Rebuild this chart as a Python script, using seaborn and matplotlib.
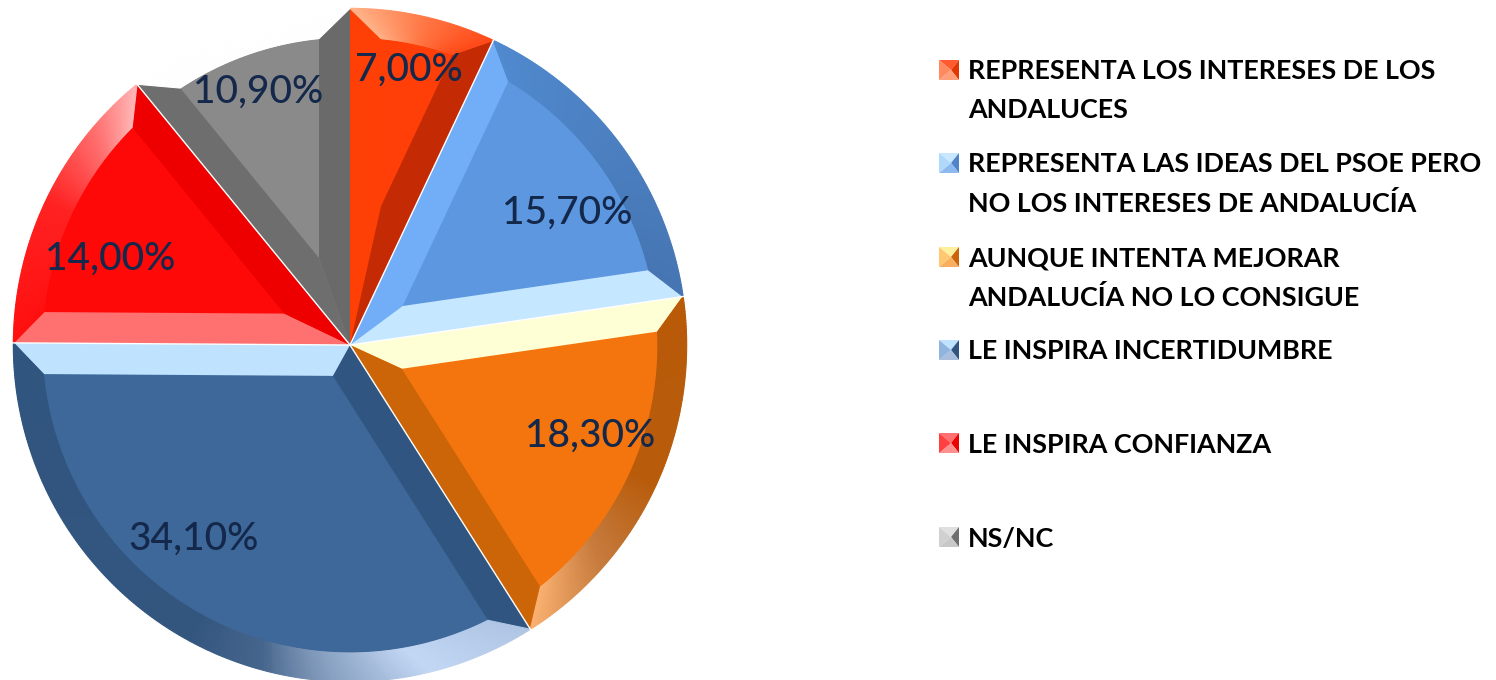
import numpy as np
import matplotlib
matplotlib.use('Agg')
import matplotlib.pyplot as plt
import seaborn as sns
from matplotlib.colors import LinearSegmentedColormap
from matplotlib.patches import Polygon

sns.set_theme(style='white')
plt.rcParams['font.family'] = ['Lato', 'DejaVu Sans']

legend_lines = [
    ['REPRESENTA LOS INTERESES DE LOS', 'ANDALUCES'],
    ['REPRESENTA LAS IDEAS DEL PSOE PERO', 'NO LOS INTERESES DE ANDALUCÍA'],
    ['AUNQUE INTENTA MEJORAR', 'ANDALUCÍA NO LO CONSIGUE'],
    ['LE INSPIRA INCERTIDUMBRE'],
    ['LE INSPIRA CONFIANZA'],
    ['NS/NC'],
]
values = [7.0, 15.7, 18.3, 34.1, 14.0, 10.9]
value_labels = ['7,00%', '15,70%', '18,30%', '34,10%', '14,00%', '10,90%']

face_colors = ['#FF3E08', '#5C97E0', '#F4750E', '#3E6899', '#FF0808', '#8A8A8A']
start_colors = ['#FF4006', '#72AEF8', '#FFFFD5', '#305580', '#FF7070', '#6E6E6E']
end_colors = ['#C42B04', '#C5E7FF', '#CC6408', '#BFE3FF', '#EE0000', '#6A6A6A']
rim_stops = [
    [(0, '#FFB48A'), (0.5, '#FF7A48'), (1, '#FF4A18')],
    [(0, '#5089CE'), (1, '#4675B2')],
    [(0, '#B85A08'), (0.5, '#B85C0C'), (0.75, '#C57A3C'), (1, '#F9B070')],
    [(0, '#AFC6E4'), (0.15, '#C3D8F5'), (0.31, '#7E97B8'), (0.39, '#46658C'), (0.5, '#33567F'), (1, '#30557F')],
    [(0, '#FF1010'), (0.5, '#FF2222'), (0.8, '#FF7070'), (1, '#FFB5B5')],
    [(0, '#FFFFFF'), (1, '#FFFFFF')],
]
swatch_colors = [
    ['#FF5A30', '#E63600', '#FF9E7A', '#FF8A60'],
    ['#C8E8FF', '#4F85C8', '#8DB9EE', '#B0D8FA'],
    ['#FFF0A0', '#CC6408', '#F8B060', '#FFC870'],
    ['#BFE3FF', '#305580', '#A8BEDC', '#8FB5DF'],
    ['#FF7070', '#EE0000', '#FF9090', '#FF4040'],
    ['#E0E0E0', '#6E6E6E', '#C8C8C8', '#D0D0D0'],
]

# pixel layout of the page
cx, cy, radius = 350, 345, 336
edge_w = 31 / radius
rim_w = 28 / radius
label_xy = [(409, 70), (567, 213), (590, 436), (194, 539), (110, 259), (258, 92)]
legend_y = [[71, 110], [164, 203], [258, 297], [351], [445], [539]]
swatch_y = [70, 163, 257, 350, 443, 537]

fig = plt.figure(figsize=(14.96, 6.8), dpi=100, facecolor='white')
pad = 345
ax = fig.add_axes([(cx - pad) / 1496, (680 - cy - pad) / 680, 2 * pad / 1496, 2 * pad / 680])
wedges, _ = ax.pie(values, colors=sns.color_palette(face_colors), startangle=90,
                   counterclock=False, radius=1, wedgeprops={'linewidth': 0})
ax.set_xlim(-pad / radius, pad / radius)
ax.set_ylim(-pad / radius, pad / radius)
ax.axis('off')


def pt(r, deg):
    return [r * np.cos(np.radians(deg)), r * np.sin(np.radians(deg))]


for i, w in enumerate(wedges):
    hi, lo = w.theta2, w.theta1  # clockwise: slice starts at hi
    half = np.radians((hi - lo) / 2)
    mid = (hi + lo) / 2
    apex = pt(edge_w / np.sin(half), mid)
    inner = 1 - rim_w
    da = np.degrees(np.arcsin(edge_w / inner))
    ihi, ilo = hi - da, lo + da

    ax.add_patch(Polygon([[0, 0], pt(1, hi), pt(inner, ihi), apex], fc=start_colors[i], lw=0, zorder=3))
    ax.add_patch(Polygon([[0, 0], pt(1, lo), pt(inner, ilo), apex], fc=end_colors[i], lw=0, zorder=3))

    cmap = LinearSegmentedColormap.from_list('rim%d' % i, rim_stops[i])
    n = max(int(hi - lo) * 2, 8)
    for k in range(n):
        f0, f1 = k / n, (k + 1) / n
        # outer and inner arcs of the rim, narrowing to the inner corners
        poly = [pt(1.002, hi - f0 * (hi - lo)), pt(1.002, hi - f1 * (hi - lo)),
                pt(inner, ihi - f1 * (ihi - ilo)), pt(inner, ihi - f0 * (ihi - ilo))]
        c = cmap((f0 + f1) / 2)
        ax.add_patch(Polygon(poly, fc=c, ec=c, lw=0.8, zorder=4))

    # thin white seam between slices, none where the grey meets the first slice
    if i < len(wedges) - 1:
        ax.plot(*zip([0, 0], pt(1.01, lo)), color='white', lw=1.0, zorder=5, solid_capstyle='butt')

    x, y = label_xy[i]
    ax.text((x - cx) / radius, (cy - y) / radius, value_labels[i], color='#14284B',
            fontsize=28, fontweight='medium', ha='center', va='center', zorder=6)

# legend drawn on a full page overlay, in pixels
leg = fig.add_axes([0, 0, 1, 1])
leg.set_xlim(0, 1496)
leg.set_ylim(680, 0)
leg.axis('off')
leg.patch.set_alpha(0)
for i, lines in enumerate(legend_lines):
    yc = swatch_y[i]
    x0, x1, y0, y1 = 939, 959, yc - 10, yc + 10
    mid_pt = (951, yc)
    corners = [(x0, y0), (x1, y0), (x1, y1), (x0, y1)]
    for j in range(4):
        leg.add_patch(Polygon([corners[j], corners[(j + 1) % 4], mid_pt],
                              fc=swatch_colors[i][j], lw=0))
    for line, y in zip(lines, legend_y[i]):
        leg.text(968, y, line, color='black', fontsize=19.4, fontweight='bold',
                 ha='left', va='center')

fig.savefig('out.png', dpi=100)
